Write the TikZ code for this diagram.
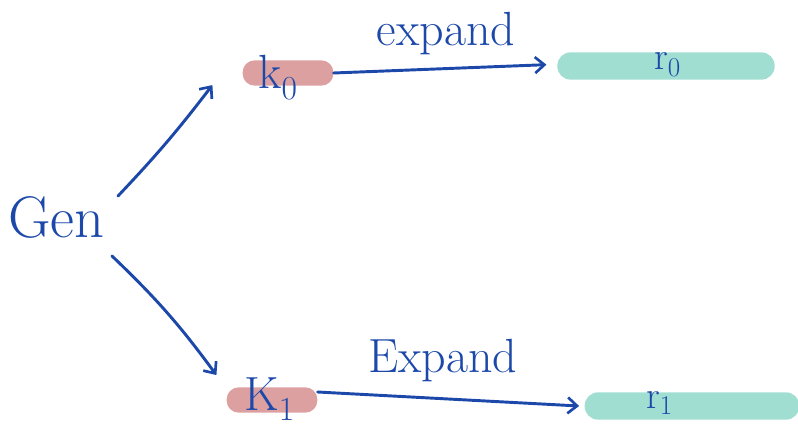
\documentclass[tikz,border=0pt]{standalone}
\usetikzlibrary{arrows.meta}
\definecolor{ink}{RGB}{28,72,170}
\definecolor{pinkbar}{RGB}{221,160,160}
\definecolor{tealbar}{RGB}{161,222,210}
\begin{document}
\begin{tikzpicture}[x=0.75pt,y=-0.75pt,
  pbar/.style={fill=pinkbar,rounded corners=9pt,inner sep=0pt,minimum height=19pt},
  tbar/.style={fill=tealbar,rounded corners=10pt,inner sep=0pt,minimum height=20.5pt},
  lbl/.style={text=ink,inner sep=0pt},
  arr/.style={draw=ink,line width=2.2pt,line cap=round,
    -{Straight Barb[length=7pt,width=12pt,line width=2pt]}},
  big/.style={lbl,font=\fontsize{44}{50}\selectfont},
  mid/.style={lbl,font=\fontsize{36}{40}\selectfont},
  sml/.style={lbl,font=\fontsize{29}{32}\selectfont}]
\useasboundingbox (0,0) rectangle (798,427);
% bars
\node[pbar,minimum width=68pt] (k0) at (288,73) {};
\node[pbar,minimum width=68pt] (k1) at (272,400) {};
\node[tbar,minimum width=163pt] (r0) at (666,66) {};
\node[tbar,minimum width=161pt] (r1) at (692,406) {};
% labels
\node[big,anchor=base west] (gen) at (8,238) {Gen};
\node[mid,anchor=base west] (k0t) at (258,89) {k\textsubscript{0}};
\node[mid,anchor=base west] (k1t) at (244,410) {K\textsubscript{1}};
\node[sml,anchor=base west] (r0t) at (654,70) {r\textsubscript{0}};
\node[sml,anchor=base west] (r1t) at (646,408) {r\textsubscript{1}};
\node[mid,anchor=base] (e0) at (446,46) {expand};
\node[mid,anchor=base] (e1) at (443,372) {Expand};
% connectors
\coordinate (g1) at (118,196);
\coordinate (g2) at (112,256);
\draw[arr] (g1) to[bend right=3] ([shift={(-30,25)}]k0.north west);
\draw[arr] (g2) to[bend left=5] ([shift={(-10,-12)}]k1.north west);
\draw[arr] (k0.east) -- ([xshift=-8pt,yshift=1pt]r0.west);
\draw[arr] ([yshift=6pt]k1.east) -- ([xshift=-4pt]r1.west);
\end{tikzpicture}
\end{document}
